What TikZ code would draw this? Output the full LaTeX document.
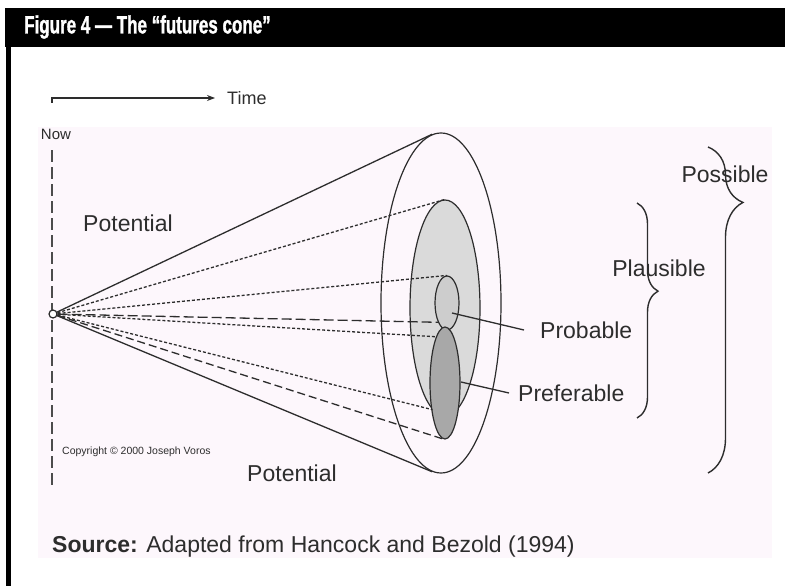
\documentclass[tikz,border=0pt]{standalone}
\usepackage{fontspec}
\setmainfont{Liberation Sans}
\newfontfamily\titlefont{Liberation Sans Bold}[FakeStretch=0.68,FakeBold=1.2]
\usetikzlibrary{shapes.geometric,decorations.pathreplacing,arrows.meta}
\definecolor{bgpink}{RGB}{253,247,252}
\definecolor{ink}{RGB}{45,45,45}
\definecolor{plausgray}{RGB}{218,218,218}
\definecolor{probgray}{RGB}{205,205,205}
\definecolor{prefgray}{RGB}{168,168,168}

\begin{document}
\begin{tikzpicture}[x=1pt,y=-1pt,
  lbl/.style={text=ink,font=\fontsize{23}{26}\selectfont,inner sep=0pt},
  ray/.style={draw=ink,line width=1.3pt},
  dotray/.style={ray,dash pattern=on 3pt off 2pt},
  dashray/.style={ray,dash pattern=on 8pt off 4pt},
  oval/.style={ellipse,draw=ink,line width=1.2pt,inner sep=0pt},
  bracket/.style={draw=ink,line width=1.4pt,decorate}]
  \useasboundingbox (0,0) rectangle (785,586);
  % frame and header
  \fill[black] (5,8) rectangle (785,47);
  \fill[black] (6,47) rectangle (11,586);
  \fill[bgpink] (38,127) rectangle (772,558);
  \node[anchor=west,text=white,inner sep=0pt,font=\titlefont\fontsize{25}{28}\selectfont] (title) at (24,27) {Figure 4 — The “futures cone”};

  % time arrow and now line
  \node[lbl,anchor=west,inner xsep=12pt,font=\fontsize{18}{20}\selectfont] (time) at (215,98) {Time};
  \coordinate (tstart) at (52,98);
  \coordinate (ttick) at (52,103);
  \draw[ink,line width=1.2pt,-{Stealth[length=8pt,width=6pt]}] (ttick) -- (tstart) -- (time.west);
  \node[lbl,font=\fontsize{15}{17}\selectfont] (now) at (56,134) {Now};
  \coordinate (nowtop) at (52,150);
  \coordinate (nowbot) at (52,488);
  \draw[ink!85,line width=2pt,dash pattern=on 12pt off 5pt] (nowtop) -- (nowbot);

  % the cone
  \node[oval,minimum width=120pt,minimum height=340pt] (outer) at (441,303) {};
  \node[oval,fill=plausgray,minimum width=70pt,minimum height=216pt] (plaus) at (445,308) {};
  \node[oval,fill=probgray,minimum width=24pt,minimum height=54pt] (prob) at (447,303) {};
  \node[oval,fill=prefgray,minimum width=30pt,minimum height=112pt] (pref) at (445,383) {};
  \node[circle,draw=ink,fill=white,line width=1.2pt,minimum size=8pt,inner sep=0pt] (apex) at (53,314) {};
  \draw[ray] (apex) -- (outer.93);
  \draw[dotray] (apex) -- (plaus.north);
  \draw[dotray] (apex) -- (prob.north);
  \draw[ray,dash pattern=on 10pt off 4pt] (apex) -- (prob.245);
  \draw[dotray] (apex) -- (pref.101);
  \draw[dotray] (apex) -- (plaus.263);
  \draw[dashray] (apex) -- (pref.south);
  \draw[ray] (apex) -- (outer.267);

  \node[lbl] (potup) at (128,223) {Potential};
  \node[lbl] (potlow) at (292,473) {Potential};
  \node[lbl,anchor=west,font=\fontsize{10.5}{12}\selectfont] (copy) at (62,452) {Copyright © 2000 Joseph Voros};

  % leaders
  \coordinate (probpt) at (452,313);
  \node[lbl,anchor=west,inner xsep=16pt] (problbl) at (524,330) {Probable};
  \draw[ray] (probpt) -- (problbl.west);
  \coordinate (prefpt) at (461,382);
  \node[lbl,anchor=west,inner xsep=9pt] (preflbl) at (509,393) {Preferable};
  \draw[ray] (prefpt) -- (preflbl.west);

  % braces
  \node[lbl] (plauslbl) at (659,268) {Plausible};
  \coordinate (pltop) at (637,203);
  \coordinate (plbot) at (637,418);
  \draw[bracket,decoration={brace,amplitude=21pt,aspect=0.41}] (pltop) -- (plbot);
  \node[lbl] (posslbl) at (725,174) {Possible};
  \coordinate (potop) at (708,147);
  \coordinate (pobot) at (708,473);
  \draw[bracket,decoration={brace,amplitude=35pt,aspect=0.17}] (potop) -- (pobot);

  \node[lbl,anchor=west] (source) at (52,547) {\textbf{Source:} Adapted from Hancock and Bezold (1994)};
\end{tikzpicture}
\end{document}
